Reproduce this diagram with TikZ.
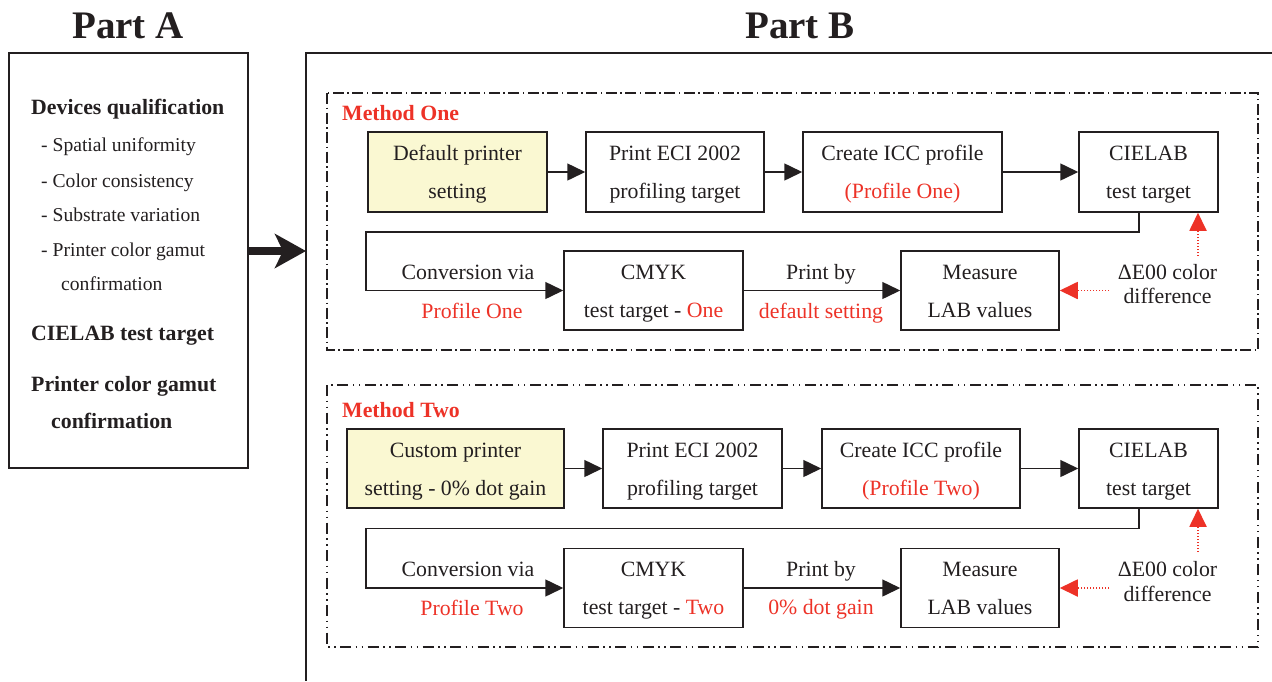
\documentclass[tikz,border=0pt]{standalone}
\usepackage{fontspec}
\setmainfont{Liberation Serif}
\usetikzlibrary{arrows.meta}
\definecolor{txt}{RGB}{35,31,32}
\definecolor{redc}{RGB}{237,50,39}
\definecolor{yel}{RGB}{250,248,210}
\newcommand\twoline[2]{\begin{tabular}{@{}c@{}}#1\\#2\end{tabular}}
\tikzset{
  box/.style={draw=txt, line width=1.5pt, fill=white, text=txt, inner sep=0pt,
    font=\fontsize{21.8}{38}\selectfont},
  lbl/.style={text=txt, inner sep=0pt, anchor=base, font=\fontsize{21.8}{26}\selectfont},
  rlbl/.style={lbl, text=redc},
  alist/.style={text=txt, inner sep=0pt, anchor=base west, font=\fontsize{19.6}{24}\selectfont},
  abold/.style={text=txt, inner sep=0pt, anchor=base west, font=\fontsize{21.8}{26}\selectfont\bfseries},
  mlbl/.style={text=redc, inner sep=0pt, anchor=base west, font=\fontsize{21.8}{26}\selectfont\bfseries},
  ttl/.style={text=txt, inner sep=0pt, anchor=base, font=\fontsize{39}{44}\selectfont\bfseries},
  arr/.style={draw=txt, line width=1.5pt, -{Triangle[length=18pt,width=17pt]}},
  redarr/.style={draw=redc, line width=1.8pt, dash pattern=on 1.5pt off 1.5pt, -{Triangle[length=18pt,width=17pt]}},
  dd1/.style={draw=txt, line width=1.3pt, dash pattern=on 11pt off 3.5pt on 1.5pt off 3.5pt},
  dd2/.style={draw=txt, line width=1.3pt, dash pattern=on 11pt off 4.5pt on 1.5pt off 4.5pt on 1.5pt off 4.5pt},
}
\begin{document}
\begin{tikzpicture}[x=1pt,y=-1pt]
\useasboundingbox (0,0) rectangle (1272,681);

% Titles
\node[ttl] (tA) at (128,38) {Part A};
\node[ttl] (tB) at (800,38) {Part B};

% Part A box
\node[draw=txt, line width=2pt, minimum width=239pt, minimum height=415pt, inner sep=0pt] (A) at (128.5,260.5) {};
\node[abold] (a1) at (31,114) {Devices qualification};
\node[alist] (a2) at (41,151.7) {- Spatial uniformity};
\node[alist] (a3) at (41,187.7) {- Color consistency};
\node[alist] (a4) at (41,221.7) {- Substrate variation};
\node[alist] (a5) at (41,256) {- Printer color gamut};
\node[alist] (a6) at (61,290) {confirmation};
\node[abold] (a7) at (31,340) {CIELAB test target};
\node[abold] (a8) at (31,391.7) {Printer color gamut};
\node[abold] (a9) at (51,428.3) {confirmation};

% Part B frame
\coordinate (Btl) at (306,53);
\draw[txt, line width=2pt] (1272,53) -- (Btl) -- (306,681);
\coordinate (Bin) at (306,251);
\draw[txt, line width=7.5pt, -{Stealth[length=31pt,width=34pt,inset=8pt]}] (A.east |- Bin) -- (Bin);

% Method One frame
\draw[dd1] (327,93) rectangle (1258,350);
\node[mlbl] (M1) at (342,120) {Method One};

\node[box, fill=yel, minimum width=179pt, minimum height=80pt] (s1) at (457.5,172) {\twoline{Default printer}{setting}};
\node[box, minimum width=178pt, minimum height=80pt] (p1) at (675,172) {\twoline{Print ECI 2002}{profiling target}};
\node[box, minimum width=199pt, minimum height=80pt] (i1) at (902.5,172) {\twoline{Create ICC profile}{\textcolor{redc}{(Profile One)}}};
\node[box, minimum width=139pt, minimum height=80pt] (c1) at (1148.5,172) {\twoline{CIELAB}{test target}};
\node[box, minimum width=179pt, minimum height=79pt] (k1) at (653.5,290.5) {\twoline{CMYK}{test target - \textcolor{redc}{One}}};
\node[box, minimum width=158pt, minimum height=79pt] (m1) at (980,290.5) {\twoline{Measure}{LAB values}};

\draw[arr] (s1) -- (p1);
\draw[arr] (p1) -- (i1);
\draw[arr] (i1) -- (c1);
\coordinate (r1) at (1139,232);
\coordinate (l1) at (366,232);
\draw[arr] (r1 |- c1.south) -- (r1) -- (l1) |- (k1.west);
\draw[arr] (k1) -- (m1);

\node[lbl] (cv1) at (468,279.3) {Conversion via};
\node[rlbl] (pf1) at (472,318.3) {Profile One};
\node[lbl] (pb1) at (821,279.3) {Print by};
\node[rlbl] (ds1) at (821,318.3) {default setting};
\node[lbl] (de1) at (1167.5,279.3) {ΔE00 color};
\node[lbl] (df1) at (1167.5,303.3) {difference};
\coordinate (u1) at (1198,256);
\coordinate (v1) at (1109,290.5);
\draw[redarr] (u1) -- (u1 |- c1.south);
\draw[redarr] (v1) -- (m1.east);

% Method Two frame
\draw[dd2] (327,385) rectangle (1258,647);
\node[mlbl] (M2) at (342,417.7) {Method Two};

\node[box, fill=yel, minimum width=217pt, minimum height=79pt] (s2) at (455.5,468.5) {\twoline{Custom printer}{setting - 0\% dot gain}};
\node[box, minimum width=179pt, minimum height=79pt] (p2) at (692.5,468.5) {\twoline{Print ECI 2002}{profiling target}};
\node[box, minimum width=198pt, minimum height=79pt] (i2) at (921,468.5) {\twoline{Create ICC profile}{\textcolor{redc}{(Profile Two)}}};
\node[box, minimum width=139pt, minimum height=79pt] (c2) at (1148.5,468.5) {\twoline{CIELAB}{test target}};
\node[box, minimum width=179pt, minimum height=79pt] (k2) at (653.5,588) {\twoline{CMYK}{test target - \textcolor{redc}{Two}}};
\node[box, minimum width=158pt, minimum height=79pt] (m2) at (980,588) {\twoline{Measure}{LAB values}};

\draw[arr] (s2) -- (p2);
\draw[arr] (p2) -- (i2);
\draw[arr] (i2) -- (c2);
\coordinate (r2) at (1139,528.5);
\coordinate (l2) at (366,528.5);
\draw[arr] (r2 |- c2.south) -- (r2) -- (l2) |- (k2.west);
\draw[arr] (k2) -- (m2);

\node[lbl] (cv2) at (468,576.5) {Conversion via};
\node[rlbl] (pf2) at (472,615.5) {Profile Two};
\node[lbl] (pb2) at (821,576.5) {Print by};
\node[rlbl] (ds2) at (821,614.5) {0\% dot gain};
\node[lbl] (de2) at (1167.5,576) {ΔE00 color};
\node[lbl] (df2) at (1167.5,601.5) {difference};
\coordinate (u2) at (1198,552);
\coordinate (v2) at (1109,588);
\draw[redarr] (u2) -- (u2 |- c2.south);
\draw[redarr] (v2) -- (m2.east);
\end{tikzpicture}
\end{document}
